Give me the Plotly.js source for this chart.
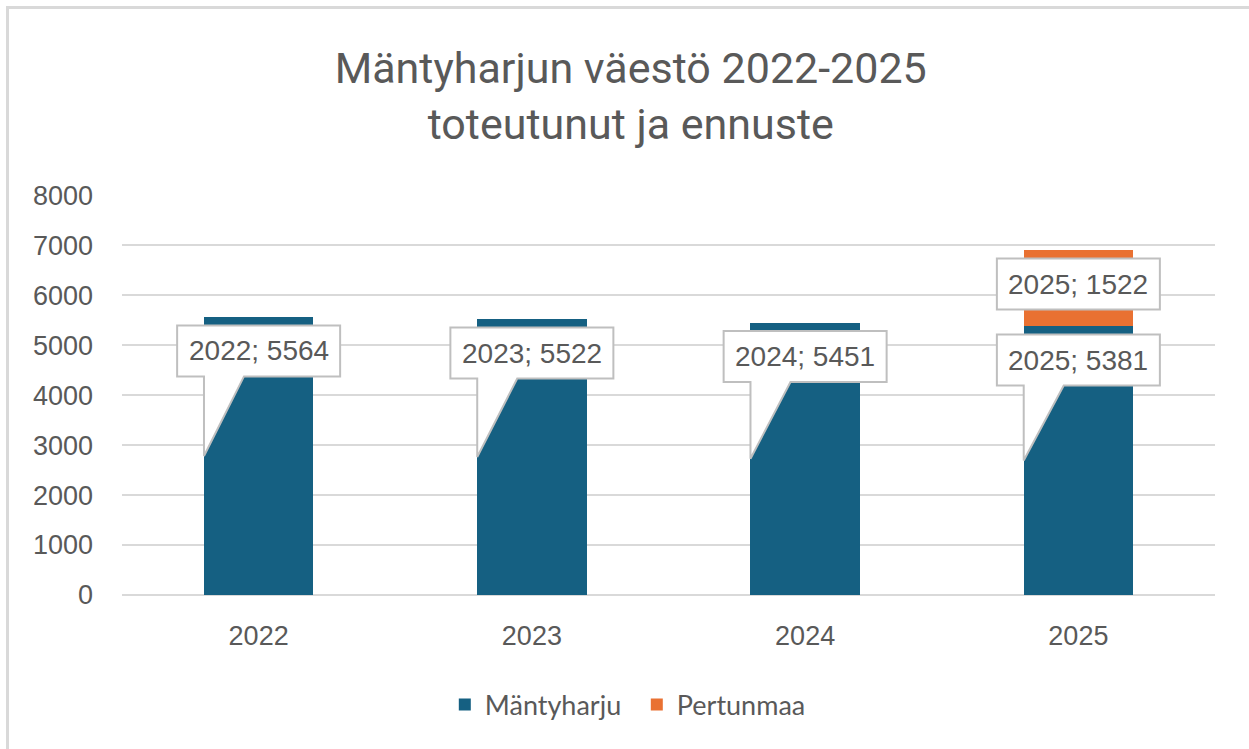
<!DOCTYPE html>
<html>
<head>
<meta charset="utf-8">
<script src="https://cdn.plot.ly/plotly-3.0.1.min.js"></script>
<style>
  html, body { margin: 0; padding: 0; background: #ffffff; }
  #frame { position: absolute; left: 6px; top: 6px; width: 1260px; height: 760px;
           border-left: 3px solid #d9d9d9; border-top: 3px solid #d9d9d9; }
  #chart { position: absolute; left: 0; top: 0; width: 1249px; height: 749px; }
</style>
</head>
<body>
<div id="frame"></div>
<div id="chart"></div>
<script>
// ---- data ----
const years = ['2022', '2023', '2024', '2025'];
const mantyharju = [5564, 5522, 5451, 5381];
const pertunmaa = [null, null, null, 1522];
const seriesNames = ['Mäntyharju', 'Pertunmaa'];
const titleLine1 = 'Mäntyharjun väestö 2022-2025';
const titleLine2 = 'toteutunut ja ennuste';
const yTicks = [0, 1000, 2000, 3000, 4000, 5000, 6000, 7000, 8000];

// ---- style ----
const colMan = '#156082';
const colPer = '#e97132';
const textCol = '#595959';
const gridCol = '#d9d9d9';
const boxLine = '#bfbfbf';
const numFont = 'Liberation Sans, Arial, sans-serif';

const yMax = 8000;
const plotH = 400;               // px height of plot area
const u = yMax / plotH;          // data units per pixel
const catPx = 1093 / years.length; // px per category
const halfBar = 0.2;             // half bar width in category units (bargap 0.6)
const boxHalfW = 81.5 / catPx;   // half box width in category units
const boxHalfH = 25.5 * u;       // half box height in data units

const xPos = years.map((_, i) => i);

function boxPath(xc, yc, tail) {
  const L = xc - boxHalfW, R = xc + boxHalfW;
  const T = yc + boxHalfH, B = yc - boxHalfH;
  if (tail == null) {
    return `M${L},${T} L${R},${T} L${R},${B} L${L},${B} Z`;
  }
  const bl = xc - halfBar;
  const tr = bl + 40 / catPx;
  return `M${L},${T} L${R},${T} L${R},${B} L${tr},${B} L${bl},${tail} L${bl},${B} L${L},${B} Z`;
}

const shapes = [];
const annotations = [];
mantyharju.forEach((v, i) => {
  const yc = v - 34 * u;
  shapes.push({type: 'path', xref: 'x', yref: 'y', layer: 'above',
    path: boxPath(xPos[i], yc, v / 2), fillcolor: '#ffffff',
    line: {color: boxLine, width: 2}});
  annotations.push({x: xPos[i], y: yc, xref: 'x', yref: 'y', showarrow: false,
    text: years[i] + '; ' + v,
    font: {family: numFont, size: 28, color: textCol}});
});
pertunmaa.forEach((v, i) => {
  if (v == null) return;
  const yc = mantyharju[i] + v / 2 + 4 * u;
  shapes.push({type: 'path', xref: 'x', yref: 'y', layer: 'above',
    path: boxPath(xPos[i], yc, null), fillcolor: '#ffffff',
    line: {color: boxLine, width: 2}});
  annotations.push({x: xPos[i], y: yc, xref: 'x', yref: 'y', showarrow: false,
    text: years[i] + '; ' + v,
    font: {family: numFont, size: 28, color: textCol}});
});

const traces = [
  {type: 'bar', name: seriesNames[0], x: xPos, y: mantyharju,
   marker: {color: colMan}, hoverinfo: 'skip'},
  {type: 'bar', name: seriesNames[1], x: xPos, y: pertunmaa,
   marker: {color: colPer}, hoverinfo: 'skip'}
];

const layout = {
  width: 1249, height: 749,
  paper_bgcolor: 'rgba(0,0,0,0)', plot_bgcolor: 'rgba(0,0,0,0)',
  margin: {l: 122, r: 34, t: 195, b: 154},
  barmode: 'stack', bargap: 0.6,
  title: {
    text: titleLine1 + '<br>' + titleLine2,
    font: {family: 'Roboto, sans-serif', size: 43, color: textCol},
    x: 0.505, xanchor: 'center', yref: 'container', y: 0.889, yanchor: 'middle'
  },
  xaxis: {type: 'linear', range: [-0.5, years.length - 0.5], tickvals: xPos, ticktext: years,
    showgrid: false, zeroline: false, showline: false,
    ticks: '', tickfont: {family: numFont, size: 27, color: textCol},
    ticklabelstandoff: 22, fixedrange: true},
  yaxis: {range: [0, yMax + 4], tickvals: yTicks, showgrid: true, gridcolor: gridCol, gridwidth: 2,
    zeroline: true, zerolinecolor: gridCol, zerolinewidth: 2, showline: false, ticks: '',
    tickfont: {family: numFont, size: 27, color: textCol},
    ticklabelstandoff: 28, fixedrange: true},
  showlegend: true,
  legend: {orientation: 'h', x: 0.471, xanchor: 'center', y: -0.275, yanchor: 'middle',
    font: {family: 'Lato, sans-serif', size: 27, color: textCol}, itemwidth: 30,
    entrywidth: 147, traceorder: 'normal'},
  shapes: shapes,
  annotations: annotations
};

Plotly.newPlot('chart', traces, layout, {displayModeBar: false, staticPlot: true});
</script>
</body>
</html>
